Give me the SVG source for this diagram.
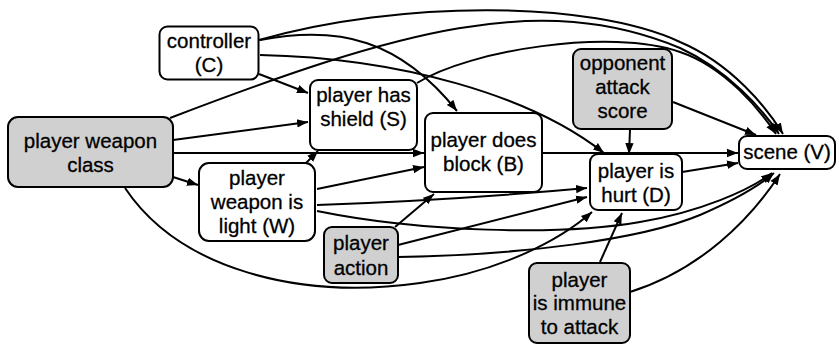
<svg xmlns="http://www.w3.org/2000/svg" width="839" height="347" viewBox="0 0 839 347">
  <style>
    .node rect { stroke: #000; stroke-width: 2; }
    .obs rect { fill: #d0d0d0; }
    .lat rect { fill: #fff; }
    .node text { font-family: "Liberation Sans", Arial, Helvetica, sans-serif; font-size: 20.5px; fill: #000; stroke: #000; stroke-width: 0.3px; text-anchor: middle; }
    .edges path { fill: none; stroke: #000; stroke-width: 2; marker-end: url(#ah); }
  </style>
  <defs>
    <marker id="ah" markerWidth="12" markerHeight="10" refX="11" refY="5" orient="auto" markerUnits="userSpaceOnUse">
      <path d="M0,0.8 L11,5 L0,9.2 z" fill="#000"/>
    </marker>
  </defs>
  <rect width="839" height="347" fill="#fff"/>

  <!-- connectors -->
  <g id="edges" class="edges">
    <!-- from controller -->
    <path d="M259,40 C400,0 590,0 680,42 C732,64 767,108 783,134"/>
    <path d="M260,40 C340,25 400,40 457,111"/>
    <path d="M260,55 C400,58 530,95 604,153"/>
    <path d="M259,74 L308,93"/>
    <!-- from player weapon class -->
    <path d="M170,118 C400,30 540,-10 680,48 C728,70 763,110 779,134"/>
    <path d="M173,140 L308,122"/>
    <path d="M173,153 L424,153"/>
    <path d="M173,177 L198,185"/>
    <path d="M125,188 C180,270 300,300 420,283 C500,272 560,240 592,212"/>
    <!-- from player has shield -->
    <path d="M417,83 C470,50 610,28 680,52 C725,67 760,110 776,134"/>
    <!-- from player weapon is light -->
    <path d="M306,163 L318,151"/>
    <path d="M317,189 L424,167"/>
    <path d="M317,205 C400,202 500,196 587,188"/>
    <path d="M317,211 C420,232 560,236 640,222 C700,212 750,190 772,173"/>
    <!-- from player action -->
    <path d="M395,227 L434,194"/>
    <path d="M398,245 L587,197"/>
    <path d="M398,257 C520,255 640,240 700,215 C735,200 760,185 774,173"/>
    <!-- from player does block -->
    <path d="M542,153 L738,153"/>
    <!-- from opponent attack score -->
    <path d="M630,130 L629,154"/>
    <path d="M673,102 L756,135"/>
    <!-- from player is hurt -->
    <path d="M682,172 L738,163"/>
    <!-- from player is immune to attack -->
    <path d="M600,262 L622,213"/>
    <path d="M630,292 C700,270 750,220 780,174"/>
  </g>

  <!-- nodes -->
  <g id="controller" class="node lat">
    <rect x="159.5" y="26.5" width="99" height="53" rx="8"/>
    <text x="209" y="48">controller</text>
    <text x="209" y="72">(C)</text>
  </g>
  <g id="shield" class="node lat">
    <rect x="310" y="80" width="107" height="70" rx="8"/>
    <text x="363.5" y="102">player has</text>
    <text x="363.5" y="126">shield (S)</text>
  </g>
  <g id="weapon-class" class="node obs">
    <rect x="8" y="117" width="165" height="70" rx="10"/>
    <text x="90.5" y="148">player weapon</text>
    <text x="90.5" y="172">class</text>
  </g>
  <g id="weapon-light" class="node lat">
    <rect x="199" y="163" width="116" height="78" rx="10"/>
    <text x="257" y="185">player</text>
    <text x="257" y="209">weapon is</text>
    <text x="257" y="233">light (W)</text>
  </g>
  <g id="action" class="node obs">
    <rect x="324" y="227" width="74" height="56" rx="8"/>
    <text x="361" y="250">player</text>
    <text x="361" y="275">action</text>
  </g>
  <g id="block" class="node lat">
    <rect x="425" y="113" width="117" height="79" rx="8"/>
    <text x="483.5" y="147">player does</text>
    <text x="483.5" y="171">block (B)</text>
  </g>
  <g id="opponent" class="node obs">
    <rect x="573" y="49" width="99" height="80" rx="8"/>
    <text x="622.5" y="70">opponent</text>
    <text x="622.5" y="94">attack</text>
    <text x="622.5" y="118">score</text>
  </g>
  <g id="hurt" class="node lat">
    <rect x="590" y="154" width="92" height="56" rx="8"/>
    <text x="636" y="178">player is</text>
    <text x="636" y="202">hurt (D)</text>
  </g>
  <g id="scene" class="node lat">
    <rect x="739" y="136" width="96" height="33" rx="8"/>
    <text x="787" y="159">scene (V)</text>
  </g>
  <g id="immune" class="node obs">
    <rect x="529" y="263" width="101" height="80" rx="8"/>
    <text x="579.5" y="287">player</text>
    <text x="579.5" y="310">is immune</text>
    <text x="579.5" y="334">to attack</text>
  </g>
</svg>
